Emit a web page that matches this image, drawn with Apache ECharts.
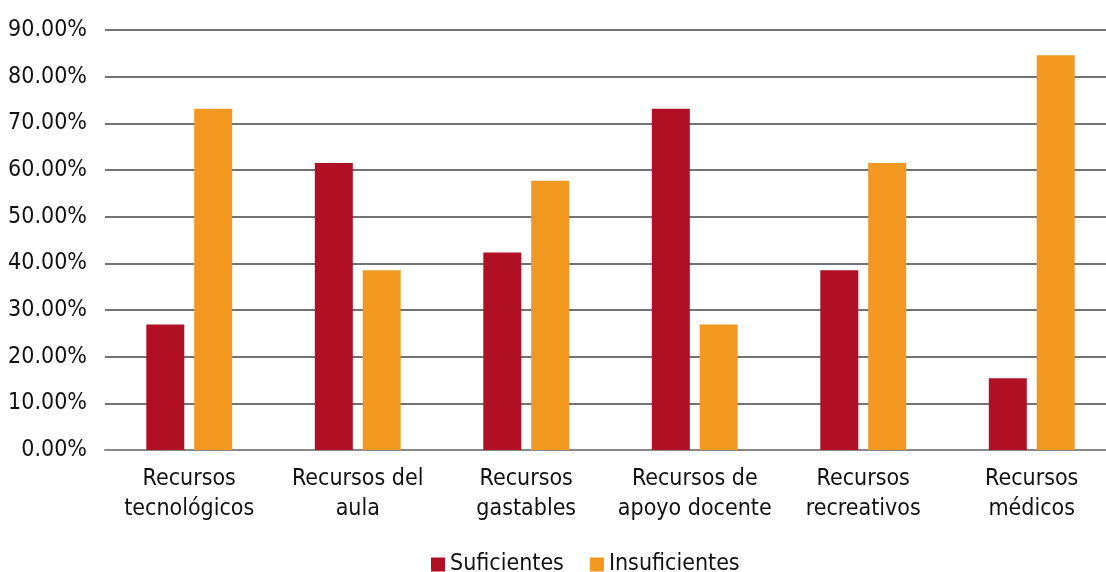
<!DOCTYPE html>
<html>
<head>
<meta charset="utf-8">
<script src="https://cdn.jsdelivr.net/npm/echarts@6/dist/echarts.min.js"></script>
<style>
  html, body { margin: 0; padding: 0; background: #fff; }
  #chart { width: 1106px; height: 572px; }
</style>
</head>
<body>
<div id="chart"></div>
<script>
const categorias = [
  'Recursos\ntecnológicos',
  'Recursos del\naula',
  'Recursos\ngastables',
  'Recursos de\napoyo docente',
  'Recursos\nrecreativos',
  'Recursos\nmédicos'
];
const suficientes = [26.9, 61.5, 42.3, 73.1, 38.5, 15.4];
const insuficientes = [73.1, 38.5, 57.7, 26.9, 61.5, 84.6];

// pick the narrowest installed font
function tieneFuente(nombre) {
  const ctx = document.createElement('canvas').getContext('2d');
  ctx.font = '40px monospace';
  const base = ctx.measureText('Recursos 90.00%').width;
  ctx.font = '40px "' + nombre + '", monospace';
  return ctx.measureText('Recursos 90.00%').width !== base;
}
const narrow = ['Liberation Sans Narrow', 'Arial Narrow'].find(tieneFuente);
const fuente = narrow ? '"' + narrow + '"' : '"DejaVu Sans Condensed", sans-serif';
const tam = narrow ? 25 : 23;

const myChart = echarts.init(document.getElementById('chart'));

const option = {
  animation: false,
  textStyle: { fontFamily: fuente },
  legend: {
    bottom: -9,
    left: 426,
    itemWidth: 14,
    itemHeight: 14,
    itemGap: 26,
    icon: 'rect',
    textStyle: { fontSize: tam, color: '#111', fontFamily: fuente }
  },
  grid: {
    left: 105,
    width: 1011,
    top: 30,
    bottom: 122,
    outerBoundsMode: 'none'
  },
  xAxis: {
    type: 'category',
    data: categorias,
    axisTick: { show: false },
    axisLine: { lineStyle: { color: '#888', width: 2 } },
    axisLabel: {
      interval: 0,
      fontSize: tam,
      color: '#111',
      lineHeight: 30,
      margin: 14,
      fontFamily: fuente
    }
  },
  yAxis: {
    type: 'value',
    min: 0,
    max: 90,
    interval: 10,
    axisLine: { show: false },
    axisTick: { show: false },
    splitLine: { lineStyle: { color: '#444', width: 1.5 } },
    axisLabel: {
      fontSize: tam,
      color: '#111',
      margin: 18,
      fontFamily: fuente,
      formatter: (v) => v.toFixed(2) + '%'
    }
  },
  series: [
    {
      name: 'Suficientes',
      type: 'bar',
      data: suficientes,
      barWidth: 38,
      barGap: '26%',
      itemStyle: { color: '#B00F24' }
    },
    {
      name: 'Insuficientes',
      type: 'bar',
      data: insuficientes,
      barWidth: 38,
      itemStyle: { color: '#F29720' }
    }
  ]
};

myChart.setOption(option);
</script>
</body>
</html>
